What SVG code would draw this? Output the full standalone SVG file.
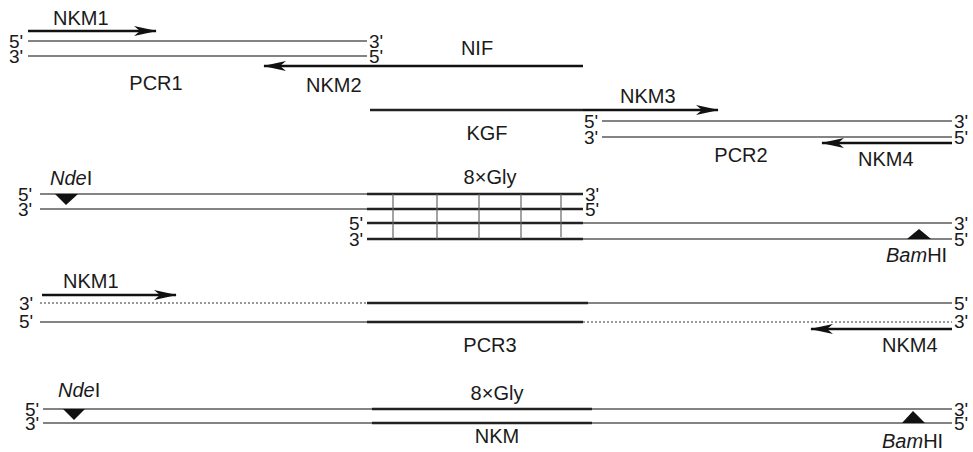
<svg xmlns="http://www.w3.org/2000/svg" width="973" height="452" viewBox="0 0 973 452">
<defs>
<style>
text{font-family:"Liberation Sans",Arial,sans-serif;font-size:20px;fill:#1a1a1a}
.end{font-size:19px}
.c{text-anchor:middle}
.it{font-style:italic}
.thin{stroke:#5a5a5a;stroke-width:1.4;fill:none}
.thick{stroke:#222;stroke-width:2.4;fill:none}
.dot{stroke:#777;stroke-width:1.4;stroke-dasharray:2 2;fill:none}
.vl{stroke:#666;stroke-width:1.2}
.arr{stroke:#111;stroke-width:2.6;fill:none;marker-end:url(#ah)}
.tri{fill:#111}
</style>
<marker id="ah" viewBox="0 0 24 12" refX="22" refY="6" markerWidth="24" markerHeight="12" markerUnits="userSpaceOnUse" orient="auto">
<path d="M0,1 L23,6 L0,11 L6,6 Z" fill="#111"/>
</marker>
</defs>

<g id="pcr1">
<line class="thin" x1="28" y1="41" x2="367" y2="41"/>
<line class="thin" x1="28" y1="56" x2="367" y2="56"/>
<text class="end" x="9" y="48">5'</text>
<text class="end" x="9" y="63">3'</text>
<text class="end" x="369" y="48">3'</text>
<text class="end" x="369" y="63">5'</text>
<text class="c" x="156" y="90">PCR1</text>
</g>

<g id="nif">
<text class="c" x="477" y="55">NIF</text>
</g>

<g id="kgf">
<line class="thick" x1="370" y1="110" x2="583" y2="110"/>
<text class="c" x="487" y="140">KGF</text>
</g>

<g id="pcr2">
<line class="thin" x1="602" y1="121" x2="952" y2="121"/>
<line class="thin" x1="602" y1="137" x2="952" y2="137"/>
<text class="end" x="584" y="128">5'</text>
<text class="end" x="584" y="144">3'</text>
<text class="end" x="954" y="128">3'</text>
<text class="end" x="954" y="144">5'</text>
<text class="c" x="741" y="162">PCR2</text>
</g>

<g id="upper-duplex">
<line class="thin" x1="40" y1="194" x2="367" y2="194"/>
<line class="thin" x1="40" y1="209" x2="367" y2="209"/>
<line class="thick" x1="367" y1="194" x2="583" y2="194"/>
<line class="thick" x1="367" y1="209" x2="583" y2="209"/>
<text class="end" x="18" y="201">5'</text>
<text class="end" x="18" y="216">3'</text>
<text class="end" x="585" y="201">3'</text>
<text class="end" x="585" y="216">5'</text>
<text x="50" y="185"><tspan class="it">Nde</tspan>I</text>
<polygon class="tri" points="55,194 78,194 66,205"/>
<text class="c" x="490" y="184">8×Gly</text>
</g>

<g id="lower-duplex">
<line class="thick" x1="367" y1="223" x2="583" y2="223"/>
<line class="thick" x1="367" y1="239" x2="583" y2="239"/>
<line class="thin" x1="583" y1="223" x2="952" y2="223"/>
<line class="thin" x1="583" y1="239" x2="952" y2="239"/>
<text class="end" x="349" y="230">5'</text>
<text class="end" x="349" y="246">3'</text>
<text class="end" x="954" y="230">3'</text>
<text class="end" x="954" y="246">5'</text>
<polygon class="tri" points="907,239 931,239 919,229"/>
<text x="886" y="262"><tspan class="it">Bam</tspan>HI</text>
</g>

<g id="gly-ticks">
<line class="vl" x1="393" y1="194" x2="393" y2="239"/>
<line class="vl" x1="437" y1="194" x2="437" y2="239"/>
<line class="vl" x1="479" y1="194" x2="479" y2="239"/>
<line class="vl" x1="521" y1="194" x2="521" y2="239"/>
<line class="vl" x1="561" y1="194" x2="561" y2="237"/>
</g>

<g id="pcr3">
<line class="dot" x1="40" y1="303" x2="367" y2="303"/>
<line class="thick" x1="367" y1="303" x2="588" y2="303"/>
<line class="thin" x1="588" y1="303" x2="952" y2="303"/>
<line class="thin" x1="40" y1="322" x2="367" y2="322"/>
<line class="thick" x1="367" y1="322" x2="583" y2="322"/>
<line class="dot" x1="583" y1="322" x2="952" y2="322"/>
<text class="end" x="19" y="310">3'</text>
<text class="end" x="19" y="328">5'</text>
<text class="end" x="954" y="310">5'</text>
<text class="end" x="954" y="328">3'</text>
<text class="c" x="490" y="352">PCR3</text>
</g>

<g id="nkm">
<line class="thin" x1="43" y1="409" x2="952" y2="409"/>
<line class="thin" x1="43" y1="423" x2="952" y2="423"/>
<line class="thick" x1="372" y1="409" x2="592" y2="409"/>
<line class="thick" x1="372" y1="423" x2="592" y2="423"/>
<text class="end" x="25" y="416">5'</text>
<text class="end" x="25" y="430">3'</text>
<text class="end" x="954" y="416">3'</text>
<text class="end" x="954" y="430">5'</text>
<text x="58" y="397"><tspan class="it">Nde</tspan>I</text>
<polygon class="tri" points="63,409 85,409 74,420"/>
<polygon class="tri" points="902,423 925,423 913,411"/>
<text x="882" y="448"><tspan class="it">Bam</tspan>HI</text>
<text class="c" x="497" y="400">8×Gly</text>
<text class="c" x="497" y="443">NKM</text>
</g>

<g id="primers">
<text x="53" y="25">NKM1</text>
<text x="306" y="92">NKM2</text>
<text x="620" y="103">NKM3</text>
<text x="858" y="166">NKM4</text>
<text x="63" y="288">NKM1</text>
<text x="882" y="352">NKM4</text>
</g>

<g id="connectors">
<line class="arr" x1="28" y1="31" x2="156" y2="31"/>
<line class="arr" x1="583" y1="66" x2="264" y2="66"/>
<line class="arr" x1="583" y1="110" x2="718" y2="110"/>
<line class="arr" x1="952" y1="143" x2="822" y2="143"/>
<line class="arr" x1="42" y1="295" x2="176" y2="295"/>
<line class="arr" x1="952" y1="329" x2="811" y2="329"/>
</g>
</svg>
